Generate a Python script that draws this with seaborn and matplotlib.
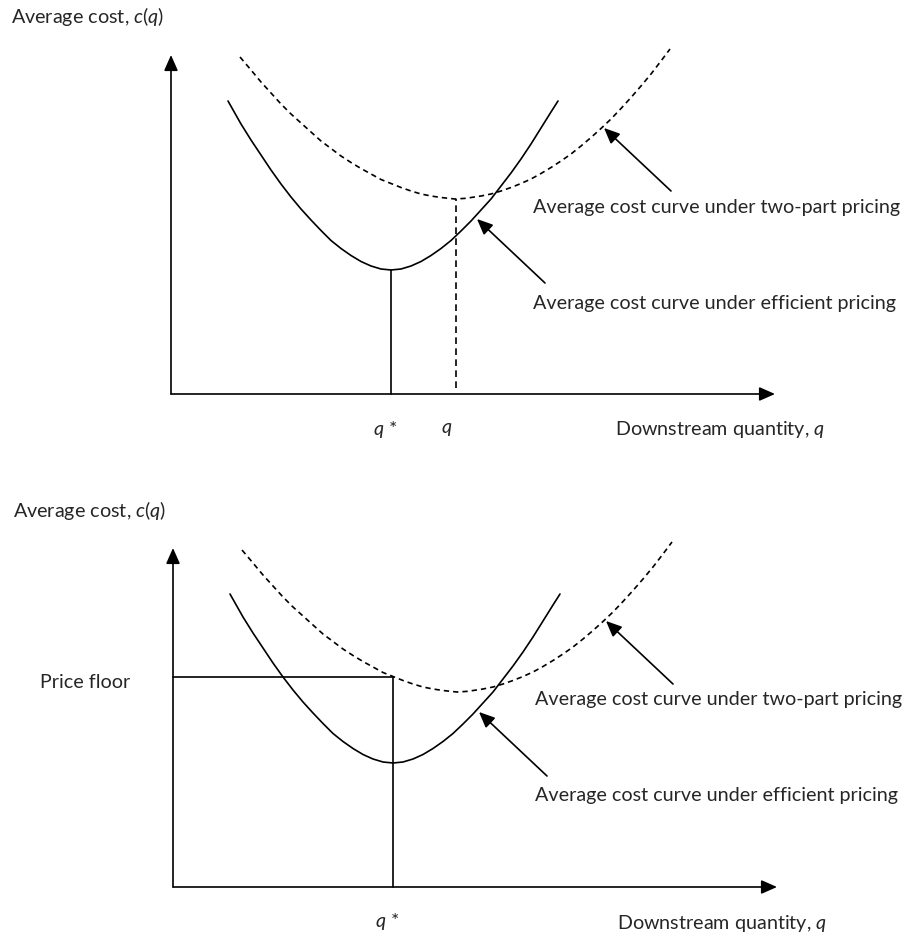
import matplotlib
matplotlib.use("Agg")
import matplotlib.pyplot as plt
import seaborn as sns

# ---------------- data (schematic units: quantity q, cost c) ----------------
# average cost curve under efficient pricing (solid)
q_eff = [5.7, 7, 8, 9, 10, 11, 12, 13, 14, 15, 16, 17, 18, 19, 20, 21, 22,
         23, 24, 25, 26, 27, 28, 29, 30, 31, 32, 33, 34, 35, 36, 37, 38, 38.7]
c_eff = [29.3, 27.0, 25.4, 23.9, 22.4, 21.0, 19.7, 18.5, 17.4, 16.35, 15.35,
         14.55, 13.85, 13.25, 12.8, 12.5, 12.4, 12.5, 12.8, 13.25, 13.85,
         14.55, 15.35, 16.3, 17.3, 18.4, 19.5, 20.8, 22.1, 23.5, 25.0, 26.6,
         28.2, 29.3]

# average cost curve under two-part pricing (dashed)
q_tp = [6.9, 8, 9, 10, 11, 12, 13, 14, 15, 16, 17, 18, 19, 20, 21, 22, 23,
        24, 25, 26, 27, 28.4, 29.5, 31, 32, 33, 34, 35, 36, 37, 38, 39, 40,
        41, 42, 43, 44, 45, 46, 47, 48, 49, 49.9]
c_tp = [33.7, 32.4, 31.2, 30.1, 29.0, 28.0, 27.1, 26.2, 25.3, 24.55, 23.8,
        23.15, 22.55, 22.0, 21.45, 21.05, 20.65, 20.3, 20.0, 19.8, 19.65,
        19.5, 19.57, 19.8, 20.0, 20.3, 20.65, 21.05, 21.5, 22.05, 22.65,
        23.3, 24.0, 24.8, 25.65, 26.55, 27.5, 28.55, 29.65, 30.8, 32.0,
        33.3, 34.5]

q_star = 22.0          # efficient quantity (min of efficient AC)
q_hat = 28.5           # quantity at min of two-part AC
c_hat = 19.5
price_floor = 21.0
c_min = 12.4

x_axis_end = 60.4
y_axis_end = 33.9

y_title = "Average cost, $c(q)$"
x_title = "Downstream quantity, $q$"
lab_tp = "Average cost curve under two-part pricing"
lab_eff = "Average cost curve under efficient pricing"
lab_floor = "Price floor"

# ---------------- style ----------------
sns.set_style("white")
FONT = "Lato"
plt.rcParams["font.family"] = [FONT, "DejaVu Sans"]
plt.rcParams["mathtext.fontset"] = "custom"
plt.rcParams["mathtext.rm"] = FONT
plt.rcParams["mathtext.it"] = FONT + ":italic"

W, H = 902, 936
fig = plt.figure(figsize=(W / 100, H / 100), dpi=100)
fig.patch.set_facecolor("white")

# fit font size so that long label has the reference width (~366 px)
renderer = fig.canvas.get_renderer()
tmp = fig.text(0, 0, lab_tp, fontsize=12)
w12 = tmp.get_window_extent(renderer).width
tmp.remove()
FS = 12 * 366 / w12

LW = 1.2
DASH = [3.2, 2.4]
arrow_kw = dict(arrowstyle="-|>,head_length=0.95,head_width=0.42",
                color="black", lw=LW, shrinkA=0, shrinkB=0, mutation_scale=10)


def setup_axes(rect, xlim, ylim):
    ax = fig.add_axes(rect)
    ax.set_xlim(*xlim)
    ax.set_ylim(*ylim)
    ax.axis("off")
    return ax


def draw_base(ax):
    # axes with arrows
    ax.annotate("", xy=(0, y_axis_end), xytext=(0, 0), arrowprops=arrow_kw)
    ax.annotate("", xy=(x_axis_end, 0), xytext=(0, 0), arrowprops=arrow_kw)
    # efficient AC (solid)
    sns.lineplot(x=q_eff, y=c_eff, ax=ax, color="black", linewidth=LW,
                 estimator=None, sort=False, legend=False)
    ax.lines[-1].set_solid_joinstyle("round")
    # two-part AC (dashed)
    sns.lineplot(x=q_tp, y=c_tp, ax=ax, color="black", linewidth=LW,
                 estimator=None, sort=False, legend=False)
    ax.lines[-1].set_dashes(DASH)
    # labels + arrows
    ax.annotate("", xy=(43.3, 26.6), xytext=(50.0, 20.3), arrowprops=arrow_kw)
    ax.annotate("", xy=(30.6, 17.5), xytext=(37.4, 11.1), arrowprops=arrow_kw)
    ax.text(36.2, 18.7, lab_tp, fontsize=FS, ha="left", va="center")
    ax.text(36.2, 9.1, lab_eff, fontsize=FS, ha="left", va="center")
    ax.text(-16.0, 37.7, y_title, fontsize=FS, ha="left", va="center")
    ax.text(44.4, -3.6, x_title, fontsize=FS, ha="left", va="center")


# ---------------- top panel ----------------
ax1 = setup_axes([0, 0.5, 1, 0.5], (-17.1, 73.1), (-7.4, 39.4))
draw_base(ax1)
sns.lineplot(x=[q_star, q_star], y=[0, c_min], ax=ax1, color="black",
             linewidth=LW, estimator=None, sort=False, legend=False)
sns.lineplot(x=[q_hat, q_hat], y=[0.6, c_hat], ax=ax1, color="black",
             linewidth=LW, estimator=None, sort=False, legend=False)
ax1.lines[-1].set_dashes([4.0, 2.6])
ax1.text(q_star - 0.6, -3.6, "$q$ *", fontsize=FS, ha="center", va="center")
ax1.text(q_hat - 0.9, -3.6, "$q$", fontsize=FS, ha="center", va="center")

# ---------------- bottom panel ----------------
ax2 = setup_axes([0, 0, 1, 0.5], (-17.3, 72.9), (-4.9, 41.9))
draw_base(ax2)
sns.lineplot(x=[0, q_star, q_star], y=[price_floor, price_floor, 0], ax=ax2,
             color="black", linewidth=LW, estimator=None, sort=False, legend=False)
ax2.text(q_star - 0.6, -3.5, "$q$ *", fontsize=FS, ha="center", va="center")
ax2.text(-8.8, price_floor - 0.5, lab_floor, fontsize=FS, ha="center", va="center")

fig.savefig("out.png", dpi=100, facecolor="white")
